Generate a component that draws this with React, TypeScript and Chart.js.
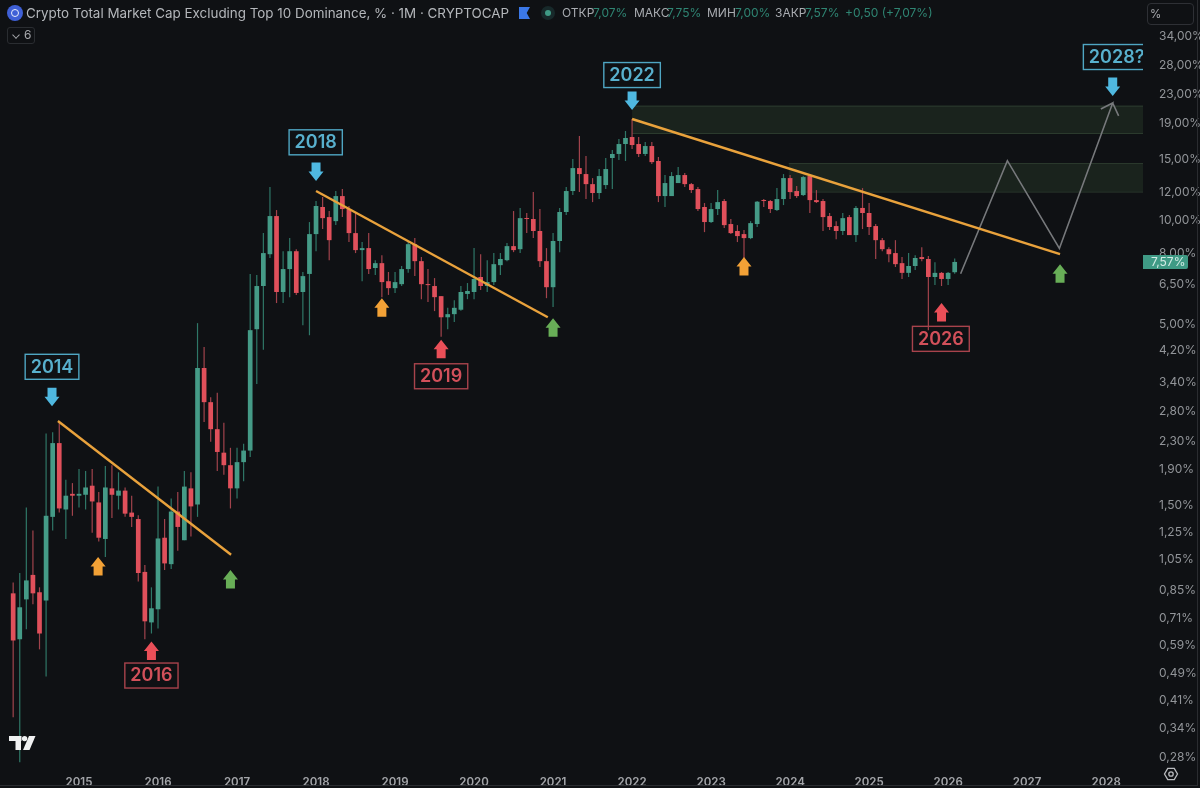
import { Chart, registerables } from "chart.js";
import { useEffect, useRef } from "react";

Chart.register(...registerables);

const BG = "#0f1114";
const GREEN = "#459b87";
const RED = "#e0505b";
const GREEN_WICK = "#2f7767";
const RED_WICK = "#a1434c";
const BLUE = "#4fb8e0";
const ORANGE = "#f2a136";
const LIME = "#68ae57";
const FONT = "Inter";

// monthly candles, first one is March 2014 (month index 2, January 2014 = 0)
const firstMonth = 2;
const opens = [
  0.836, 0.616, 0.803, 0.945, 0.842, 0.797, 1.39, 2.27, 1.46, 1.62, 1.6, 1.61, 1.71, 1.53, 1.2, 1.68, 1.6, 1.655, 1.43, 1.37,
  0.964, 0.689, 0.752, 1.21, 1.015, 1.44, 1.19, 1.68, 1.51, 3.74, 2.98, 2.49, 2.13, 1.96, 1.68, 2.0, 2.16, 4.84, 6.45, 7.97,
  10.27, 6.2, 7.22, 8.13, 6.2, 6.99, 9.11, 10.91, 10.2, 9.93, 11.73, 10.76, 9.17, 8.19, 8.3, 7.27, 7.51, 6.66, 6.36, 6.53,
  7.22, 8.52, 7.61, 6.53, 6.45, 6.03, 5.24, 5.35, 5.51, 6.12, 6.2, 6.85, 6.45, 6.62, 7.41, 7.66, 8.41, 8.24, 10.13, 10.07,
  9.3, 7.61, 6.4, 8.7, 10.55, 12.13, 14.13, 13.58, 12.7, 11.97, 12.62, 15.11, 15.52, 16.58, 17.37, 16.58, 15.52, 16.36, 14.81, 11.73,
  11.73, 12.79, 13.49, 12.7, 12.29, 10.91, 9.87, 10.76, 11.35, 9.74, 9.3, 9.11, 8.87, 9.74, 11.42, 11.35, 10.69, 11.5, 13.22, 12.13,
  11.81, 13.4, 11.42, 11.35, 10.27, 9.61, 9.3, 10.2, 9.05, 10.84, 10.48, 9.61, 8.75, 8.24, 8.03, 7.51, 7.04, 7.37, 7.82, 7.72,
  6.85, 7.04, 6.76, 7.07,
];
const highs = [
  0.899, 0.957, 1.48, 1.27, 0.87, 2.42, 2.44, 2.61, 1.78, 1.74, 1.91, 1.886, 1.91, 1.64, 1.95, 1.96, 1.87, 1.69, 1.6, 1.405,
  1.01, 0.87, 1.7, 1.37, 1.57, 1.64, 1.886, 1.87, 5.04, 4.3, 3.08, 3.17, 2.6, 2.2, 2.2, 2.26, 6.99, 6.94, 9.17, 12.46,
  10.69, 8.13, 8.87, 8.24, 7.08, 9.87, 11.35, 11.65, 10.62, 12.13, 12.29, 10.98, 10.48, 8.64, 9.17, 7.66, 7.92, 7.08, 7.08, 7.37,
  8.64, 8.87, 7.82, 7.22, 6.8, 6.03, 5.58, 5.87, 6.45, 6.58, 8.3, 7.97, 7.66, 8.03, 8.03, 8.58, 10.62, 10.84, 10.48, 12.05,
  10.76, 8.3, 9.17, 10.84, 12.46, 15.01, 17.49, 15.31, 13.22, 14.04, 15.11, 15.93, 17.14, 18.08, 19.58, 17.37, 16.81, 16.81, 15.21, 13.49,
  13.76, 14.23, 13.67, 12.79, 12.46, 11.2, 11.2, 12.21, 11.5, 10.07, 9.67, 9.36, 9.93, 11.35, 11.5, 11.42, 12.37, 13.58, 13.49, 12.54,
  13.4, 13.49, 12.21, 11.5, 10.48, 9.93, 10.48, 10.34, 10.98, 12.37, 11.2, 9.74, 8.87, 8.35, 8.75, 7.82, 8.03, 7.92, 8.35, 7.87,
  7.56, 7.08, 7.08, 7.75,
];
const lows = [
  0.367, 0.272, 0.658, 0.777, 0.576, 0.481, 1.27, 1.43, 1.2, 1.4, 1.48, 1.46, 1.25, 1.18, 1.065, 1.38, 1.46, 1.39, 1.3, 0.905,
  0.616, 0.64, 0.662, 0.977, 0.983, 1.11, 1.19, 1.22, 1.39, 2.61, 2.29, 1.886, 1.84, 1.47, 1.57, 1.76, 2.07, 3.36, 4.22, 7.77,
  5.76, 5.76, 5.99, 6.08, 4.97, 4.65, 8.13, 9.42, 7.66, 9.67, 10.2, 8.64, 8.03, 6.66, 6.99, 6.94, 5.99, 6.08, 6.16, 6.45,
  7.04, 6.89, 5.91, 5.8, 5.46, 4.6, 4.84, 5.08, 5.47, 5.91, 5.91, 6.28, 6.2, 6.49, 6.94, 7.61, 8.08, 8.03, 9.17, 8.87,
  7.32, 5.95, 5.61, 8.08, 10.34, 11.81, 12.05, 11.5, 11.27, 11.5, 12.29, 12.29, 14.91, 14.81, 16.04, 15.21, 15.31, 14.51, 11.27, 10.91,
  12.7, 12.96, 12.46, 11.97, 10.62, 9.23, 9.8, 10.34, 9.48, 9.11, 8.64, 7.77, 8.81, 9.55, 10.91, 10.48, 10.62, 11.05, 11.5, 11.58,
  11.73, 10.48, 11.2, 9.3, 9.36, 8.81, 9.05, 9.05, 8.64, 9.42, 9.05, 7.72, 8.13, 7.56, 7.32, 6.76, 6.85, 7.17, 7.61, 4.81,
  6.49, 6.45, 6.49, 7.0,
];
const closes = [
  0.611, 0.762, 0.911, 0.836, 0.64, 1.4, 2.27, 1.47, 1.6, 1.6, 1.62, 1.69, 1.54, 1.21, 1.69, 1.61, 1.655, 1.42, 1.39, 0.957,
  0.694, 0.757, 1.204, 1.02, 1.44, 1.3, 1.7, 1.49, 3.74, 2.98, 2.49, 2.14, 1.96, 1.68, 2.0, 2.16, 4.81, 6.45, 8.03, 10.27,
  6.2, 7.22, 8.13, 6.16, 6.89, 9.11, 10.98, 10.13, 8.75, 11.73, 10.76, 9.17, 8.19, 8.3, 7.22, 7.51, 6.62, 6.36, 6.62, 7.22,
  8.52, 7.61, 6.53, 6.49, 5.99, 5.24, 5.35, 5.58, 6.2, 6.24, 6.76, 6.45, 6.62, 7.46, 7.72, 8.41, 8.19, 10.13, 10.07, 9.3,
  7.61, 6.4, 8.7, 10.55, 12.13, 14.13, 13.58, 12.7, 11.97, 13.4, 14.04, 15.52, 16.58, 17.26, 16.47, 15.52, 16.36, 14.7, 11.73, 12.79,
  13.4, 13.49, 12.7, 12.21, 10.76, 9.87, 10.76, 11.27, 9.67, 9.17, 8.99, 8.87, 9.8, 11.3, 11.35, 10.76, 11.5, 13.22, 12.05, 11.73,
  13.31, 11.42, 11.27, 10.2, 9.55, 9.3, 10.13, 9.05, 10.84, 10.48, 9.55, 8.75, 8.24, 7.97, 7.46, 7.04, 7.37, 7.77, 7.72, 6.85,
  7.04, 6.76, 7.04, 7.57,
];

const yearTicks = [12, 24, 36, 48, 60, 72, 84, 96, 108, 120, 132, 144, 156, 168];
const yearLabels = ["2015", "2016", "2017", "2018", "2019", "2020", "2021", "2022", "2023", "2024", "2025", "2026", "2027", "2028"];
const priceTicks = [34, 28, 23, 19, 15, 12, 10, 8, 6.5, 5, 4.2, 3.4, 2.8, 2.3, 1.9, 1.5, 1.25, 1.05, 0.85, 0.71, 0.59, 0.49, 0.41, 0.34, 0.28];

// trend lines, [start, end]
const trendMonths = [[8.8, 35.1], [48, 83.2], [96, 161]];
const trendValues = [[2.63, 1.08], [12.13, 5.24], [19.58, 7.97]];

// grey projection, last three points are the arrow head
const pathMonths = [145.9, 153, 160.9, 169, 167.2, 169, 169.9];
const pathValues = [7.0, 14.84, 8.28, 21.78, 20.93, 21.78, 20.0];

const zoneStarts = [96, 119.8];
const zoneLows = [17.84, 12.09];
const zoneHighs = [21.4, 14.61];

const downMonths = [7.9, 48, 96, 169];
const downValues = [2.9, 12.96, 20.8, 22.82];
const redUpMonths = [23, 67, 143];
const redUpValues = [0.607, 4.51, 5.76];
const orangeUpMonths = [14.9, 58, 113];
const orangeUpValues = [1.065, 5.95, 7.82];
const greenUpMonths = [35, 84, 161];
const greenUpValues = [0.977, 5.21, 7.46];

const topLabels = ["2014", "2018", "2022", "2028?"];
const topLabelMonths = [7.9, 47.95, 96, 169.6];
const topLabelValues = [3.77, 16.77, 26.23, 29.57];
const bottomLabels = ["2016", "2019", "2026"];
const bottomLabelMonths = [23, 67, 142.9];
const bottomLabelValues = [0.484, 3.54, 4.54];

const candleMonths = opens.map((_, i) => i + firstMonth);

function drawArrow(ctx: CanvasRenderingContext2D, x: number, y: number, dir: number, color: string) {
  // dir 1 points down, -1 points up, y is the tip
  ctx.fillStyle = color;
  ctx.beginPath();
  ctx.moveTo(x, y);
  ctx.lineTo(x + 7.5, y - dir * 9.5);
  ctx.lineTo(x + 4.5, y - dir * 9.5);
  ctx.lineTo(x + 4.5, y - dir * 18.5);
  ctx.lineTo(x - 4.5, y - dir * 18.5);
  ctx.lineTo(x - 4.5, y - dir * 9.5);
  ctx.lineTo(x - 7.5, y - dir * 9.5);
  ctx.closePath();
  ctx.fill();
}

function drawBoxLabel(ctx: CanvasRenderingContext2D, text: string, x: number, y: number, textColor: string, lineColor: string) {
  ctx.font = `600 18px ${FONT}`;
  ctx.textAlign = "center";
  ctx.textBaseline = "middle";
  const w = ctx.measureText(text).width + 11;
  ctx.strokeStyle = lineColor;
  ctx.lineWidth = 1.4;
  ctx.strokeRect(x - w / 2, y - 12.5, w, 25);
  ctx.fillStyle = textColor;
  ctx.fillText(text, x, y + 0.5);
}

const marksPlugin = {
  id: "marks",
  beforeDatasetsDraw(chart: any) {
    const { ctx, chartArea, scales } = chart;
    ctx.save();
    zoneStarts.forEach((start, i) => {
      const left = scales.x.getPixelForValue(start);
      const top = scales.y.getPixelForValue(zoneHighs[i]);
      const bottom = scales.y.getPixelForValue(zoneLows[i]);
      ctx.fillStyle = "#1a231d";
      ctx.fillRect(left, top, chartArea.right - left, bottom - top);
      ctx.fillStyle = "#2c3b2e";
      ctx.fillRect(left, top, chartArea.right - left, 1);
      ctx.fillRect(left, bottom, chartArea.right - left, 1);
    });
    ctx.restore();
  },
  afterDatasetsDraw(chart: any) {
    const { ctx, chartArea, scales } = chart;
    const px = (m: number) => scales.x.getPixelForValue(m);
    const py = (v: number) => scales.y.getPixelForValue(v);
    ctx.save();
    ctx.beginPath();
    ctx.rect(chartArea.left, chartArea.top, chartArea.right - chartArea.left, chartArea.bottom - chartArea.top);
    ctx.clip();
    downMonths.forEach((m, i) => drawArrow(ctx, px(m), py(downValues[i]), 1, BLUE));
    redUpMonths.forEach((m, i) => drawArrow(ctx, px(m), py(redUpValues[i]), -1, "#ea4f58"));
    orangeUpMonths.forEach((m, i) => drawArrow(ctx, px(m), py(orangeUpValues[i]), -1, ORANGE));
    greenUpMonths.forEach((m, i) => drawArrow(ctx, px(m), py(greenUpValues[i]), -1, LIME));
    topLabels.forEach((t, i) => drawBoxLabel(ctx, t, px(topLabelMonths[i]), py(topLabelValues[i]), "#58b0cd", "#4fa6c3"));
    bottomLabels.forEach((t, i) => drawBoxLabel(ctx, t, px(bottomLabelMonths[i]), py(bottomLabelValues[i]), "#d2505a", "#a8434c"));

    // tradingview mark
    ctx.fillStyle = "#f0f1f2";
    ctx.fillRect(9, 736, 12.5, 5);
    ctx.fillRect(15.5, 736, 5.5, 14);
    ctx.beginPath();
    ctx.arc(24.6, 738.6, 2.7, 0, Math.PI * 2);
    ctx.fill();
    ctx.beginPath();
    ctx.moveTo(29, 736);
    ctx.lineTo(35.5, 736);
    ctx.lineTo(29.5, 750);
    ctx.lineTo(23, 750);
    ctx.closePath();
    ctx.fill();
    ctx.restore();
  },
  afterDraw(chart: any) {
    const { ctx, chartArea, scales } = chart;
    const last = closes[closes.length - 1];
    const y = scales.y.getPixelForValue(last);
    ctx.save();
    ctx.fillStyle = "#3f9a85";
    ctx.beginPath();
    ctx.roundRect(chartArea.right, y - 7, 45, 14, [0, 2, 2, 0]);
    ctx.fill();
    ctx.fillStyle = "#d4ece6";
    ctx.font = `12px ${FONT}`;
    ctx.textAlign = "left";
    ctx.textBaseline = "middle";
    ctx.fillText(`${last.toFixed(2).replace(".", ",")}%`, 1151, y);

    // settings hexagon
    ctx.strokeStyle = "#b9bbbe";
    ctx.lineWidth = 1.3;
    ctx.beginPath();
    for (let i = 0; i < 6; i++) {
      const a = (Math.PI / 3) * i;
      const hx = 1171 + 6.5 * Math.cos(a);
      const hy = 774 + 6.5 * Math.sin(a);
      if (i === 0) ctx.moveTo(hx, hy);
      else ctx.lineTo(hx, hy);
    }
    ctx.closePath();
    ctx.stroke();
    ctx.beginPath();
    ctx.arc(1171, 774, 2.2, 0, Math.PI * 2);
    ctx.stroke();

    ctx.fillStyle = "#2a2c30";
    ctx.fillRect(0, 785, 1197, 1);
    ctx.fillRect(1197, 0, 1, 786);
    ctx.restore();
  },
};

const abs = (left: number, top: number, extra: any = {}) => ({
  position: "absolute" as const,
  left,
  top,
  font: `12px/16px ${FONT}`,
  whiteSpace: "nowrap" as const,
  ...extra,
});

const LABEL = "#a9acb1";
const VALUE = "#2f8573";

function App() {
  const chartRef = useRef<HTMLCanvasElement | null>(null);

  useEffect(() => {
    const ctx = chartRef.current?.getContext("2d");
    if (!ctx) return;

    const trendSets = trendMonths.map((months, i) => ({
      type: "line" as const,
      data: months.map((m, j) => ({ x: m, y: trendValues[i][j] })),
      borderColor: "#e9a23c",
      borderWidth: 2.4,
      pointRadius: 0,
      order: 0,
    }));

    const chart = new Chart(ctx, {
      type: "bar",
      data: {
        datasets: [
          ...trendSets,
          {
            type: "line" as const,
            data: pathMonths.map((m, i) => ({ x: m, y: pathValues[i] })),
            borderColor: "#77797c",
            borderWidth: 1.6,
            pointRadius: 0,
            order: 0,
          },
          {
            data: candleMonths.map((m, i) => ({ x: m, y: [opens[i], closes[i]] })),
            backgroundColor: closes.map((c, i) => (c >= opens[i] ? GREEN : RED)),
            barThickness: 4.7,
            minBarLength: 1,
            grouped: false,
            inflateAmount: 0,
            order: 1,
          },
          {
            data: candleMonths.map((m, i) => ({ x: m, y: [lows[i], highs[i]] })),
            backgroundColor: closes.map((c, i) => (c >= opens[i] ? GREEN_WICK : RED_WICK)),
            barThickness: 1.2,
            grouped: false,
            inflateAmount: 0,
            order: 2,
          },
        ],
      } as any,
      options: {
        responsive: false,
        animation: false,
        layout: { padding: 0 },
        plugins: {
          legend: { display: false },
          tooltip: { enabled: false },
        },
        scales: {
          x: {
            type: "linear",
            bounds: "data",
            min: 0,
            max: 173.6,
            offset: false,
            grid: { display: false },
            border: { display: false },
            afterBuildTicks: (axis: any) => {
              axis.ticks = yearTicks.map((value) => ({ value }));
            },
            afterFit: (axis: any) => {
              axis.height = 23;
              axis.paddingLeft = 0;
              axis.paddingRight = 0;
            },
            ticks: {
              autoSkip: false,
              maxRotation: 0,
              padding: 3,
              color: "#a3a5a9",
              font: { family: FONT, size: 11.5, weight: 600 },
              callback: (value: any) => yearLabels[yearTicks.indexOf(value)],
            },
          },
          y: {
            type: "logarithmic",
            position: "right",
            bounds: "data",
            min: 0.267,
            max: 43.2,
            grid: { display: false },
            border: { display: false },
            afterBuildTicks: (axis: any) => {
              axis.ticks = priceTicks.map((value) => ({ value }));
            },
            afterFit: (axis: any) => {
              axis.width = 57;
              axis.paddingTop = 0;
              axis.paddingBottom = 0;
            },
            ticks: {
              autoSkip: false,
              padding: 8,
              color: "#929599",
              font: { family: FONT, size: 12 },
              callback: (value: any) => `${Number(value).toFixed(2).replace(".", ",")}%`,
            },
          },
        },
      } as any,
      plugins: [marksPlugin],
    });
    return () => chart.destroy();
  }, []);

  return (
    <div style={{ position: "absolute", left: 0, top: 0, width: 1200, height: 788, background: BG, overflow: "hidden" }}>
      <canvas ref={chartRef} width={1200} height={788} style={{ display: "block" }}></canvas>

      <div style={abs(7, 5, { width: 16, height: 16, borderRadius: 8, background: "#3f60d6" })}>
        <div style={{ position: "absolute", left: 4, top: 4, width: 8, height: 8, borderRadius: 4, border: "1.5px solid #e8ecfb", boxSizing: "border-box" }}></div>
      </div>
      <span style={abs(26, 5, { font: `13.4px/16px ${FONT}`, color: "#b4b7bb" })}>
        Crypto Total Market Cap Excluding Top 10 Dominance, % · 1M · CRYPTOCAP
      </span>
      <div style={abs(519, 7, { width: 11, height: 12, background: "#3b78e7", clipPath: "polygon(0 0, 100% 0, 70% 50%, 100% 100%, 0 100%)" })}></div>
      <div style={abs(541, 6, { width: 14, height: 14, borderRadius: 7, background: "#17292a" })}>
        <div style={{ position: "absolute", left: 4, top: 4, width: 6, height: 6, borderRadius: 3, background: "#3f9a85" }}></div>
      </div>
      <span style={abs(562, 5, { color: LABEL })}>ОТКР</span>
      <span style={abs(593, 5, { color: VALUE })}>7,07%</span>
      <span style={abs(634, 5, { color: LABEL })}>МАКС</span>
      <span style={abs(667, 5, { color: VALUE })}>7,75%</span>
      <span style={abs(707, 5, { color: LABEL })}>МИН</span>
      <span style={abs(735, 5, { color: VALUE })}>7,00%</span>
      <span style={abs(775, 5, { color: LABEL })}>ЗАКР</span>
      <span style={abs(805, 5, { color: VALUE })}>7,57%</span>
      <span style={abs(845, 5, { color: VALUE })}>+0,50 (+7,07%)</span>

      <div style={abs(7, 27, { width: 28, height: 17, boxSizing: "border-box", border: "1px solid #2a2d31", borderRadius: 3 })}></div>
      <div style={abs(13, 32, { width: 5, height: 5, borderRight: "1px solid #a8aaae", borderBottom: "1px solid #a8aaae", transform: "rotate(45deg) scale(0.9)" })}></div>
      <span style={abs(24, 27, { color: "#a8aaae" })}>6</span>

      <div style={abs(1147, 3, { width: 47, height: 22, boxSizing: "border-box", border: "1px solid #2e3035", borderRadius: 4 })}></div>
      <span style={abs(1150, 6, { color: "#a8aaae", font: `11.5px/16px ${FONT}` })}>%</span>
    </div>
  );
}

export default App;
